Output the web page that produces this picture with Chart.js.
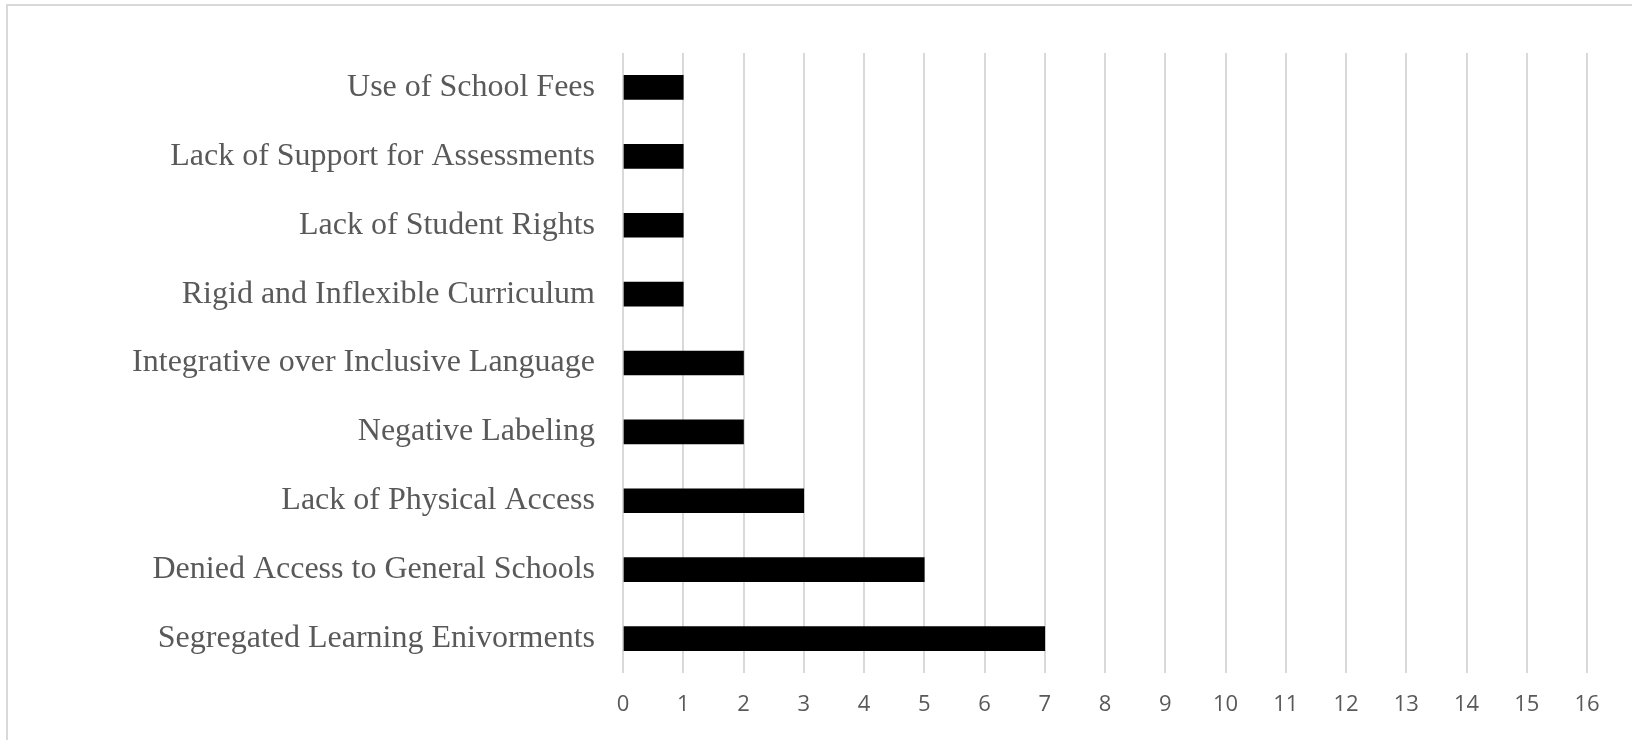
<!DOCTYPE html>
<html>
<head>
<meta charset="utf-8">
<script src="https://cdn.jsdelivr.net/npm/chart.js@4.4.1/dist/chart.umd.min.js"></script>
<style>
    html, body { margin: 0; padding: 0; background: #fff; }
    #wrap { position: relative; width: 1632px; height: 740px; overflow: hidden; }
    #frame {
        position: absolute; left: 6px; top: 4px; width: 1700px; height: 800px;
        border-left: 2px solid #d9d9d9; border-top: 2px solid #d9d9d9;
    }
    #barChart { position: absolute; left: 0; top: 0; }
</style>
</head>
<body>
<div id="wrap">
    <div id="frame"></div>
    <canvas id="barChart" width="1632" height="740"></canvas>
</div>
<script>
// Categories, top to bottom as shown
const categories = [
    'Use of School Fees',
    'Lack of Support for Assessments',
    'Lack of Student Rights',
    'Rigid and Inflexible Curriculum',
    'Integrative over Inclusive Language',
    'Negative Labeling',
    'Lack of Physical Access',
    'Denied Access to General Schools',
    'Segregated Learning Enivorments'
];
const counts = [1, 1, 1, 1, 2, 2, 3, 5, 7];
const xMin = 0;
const xMax = 16;
const xStep = 1;

const ctx = document.getElementById('barChart').getContext('2d');
const chart = new Chart(ctx, {
    type: 'bar',
    data: {
        labels: categories,
        datasets: [
            {
                data: counts,
                backgroundColor: '#000000',
                borderWidth: 0,
                barThickness: 24
            }
        ]
    },
    options: {
        indexAxis: 'y',
        responsive: false,
        animation: false,
        layout: {
            padding: { left: 0, right: 45, top: 53, bottom: 0 }
        },
        plugins: {
            legend: { display: false },
            tooltip: { enabled: false }
        },
        scales: {
            x: {
                min: xMin,
                max: xMax,
                ticks: {
                    stepSize: xStep,
                    color: '#595959',
                    padding: 19,
                    font: { family: '"Open Sans", "Liberation Sans", sans-serif', size: 22 }
                },
                grid: {
                    color: '#d9d9d9',
                    lineWidth: 2,
                    drawTicks: false
                },
                border: { display: false },
                afterFit: (scale) => { scale.height = 67; }
            },
            y: {
                ticks: {
                    color: '#595959',
                    padding: 28,
                    font: { family: '"Liberation Serif", "Times New Roman", serif', size: 32 }
                },
                grid: { display: false, drawTicks: false },
                border: { display: false },
                afterFit: (scale) => { scale.width = 623; }
            }
        }
    }
});
</script>
</body>
</html>
